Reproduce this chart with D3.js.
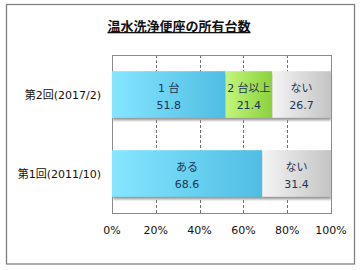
<!DOCTYPE html>
<html>
<head>
<meta charset="utf-8">
<script src="https://cdn.jsdelivr.net/npm/d3@7"></script>
<style>
  body { margin: 0; background: #fff; }
  text { font-family: "DejaVu Sans", "Noto Sans CJK JP", sans-serif; }
</style>
</head>
<body>
<script>
// chart data
var title = "温水洗浄便座の所有台数";
var categories = ["第2回(2017/2)", "第1回(2011/10)"];
var segNames = [["1 台", "2 台以上", "ない"], ["ある", "ない"]];
var segValues = [[51.8, 21.4, 26.7], [68.6, 31.4]];
var segColors = [["blue", "green", "gray"], ["blue", "gray"]];
var tickValues = [0, 20, 40, 60, 80, 100];

var width = 360, height = 270;
var margin = {top: 55, right: 29, bottom: 57, left: 112};

var svg = d3.select("body").append("svg")
    .attr("width", width)
    .attr("height", height);

var defs = svg.append("defs");
var grads = {
    blue: ["#86e6ff", "#4fbde3"],
    green: ["#c3f57e", "#8ad23a"],
    gray: ["#f4f4f4", "#c4c4c4"]
};
Object.keys(grads).forEach(function(k) {
    var lg = defs.append("linearGradient").attr("id", "g-" + k)
        .attr("x1", "0%").attr("x2", "100%").attr("y1", "0%").attr("y2", "0%");
    lg.append("stop").attr("offset", "0%").attr("stop-color", grads[k][0]);
    lg.append("stop").attr("offset", "100%").attr("stop-color", grads[k][1]);
});
var f = defs.append("filter").attr("id", "shadow")
    .attr("x", "-5%").attr("y", "-20%").attr("width", "110%").attr("height", "150%");
f.append("feGaussianBlur").attr("stdDeviation", 1.2);

// outer frame
svg.append("rect")
    .attr("x", 6.5).attr("y", 4.5)
    .attr("width", 348).attr("height", 259.5)
    .attr("fill", "#fff")
    .attr("stroke", "#808080")
    .attr("stroke-width", 1.3);

// title
svg.append("text")
    .attr("x", 179).attr("y", 31)
    .attr("text-anchor", "middle")
    .attr("font-size", 13)
    .attr("font-weight", "bold")
    .attr("fill", "#111")
    .attr("text-decoration", "underline")
    .style("font-family", "'Noto Sans CJK JP', sans-serif")
    .text(title);

var x = d3.scaleLinear()
    .domain([0, 100])
    .range([margin.left, width - margin.right]);

var y = d3.scaleBand()
    .domain(categories)
    .range([margin.top, height - margin.bottom])
    .paddingInner(0.41)
    .paddingOuter(0.205);

var g = svg.append("g");

// gridlines
g.selectAll(".grid")
    .data(tickValues.slice(1, -1))
    .enter()
    .append("line")
    .attr("class", "grid")
    .attr("x1", function(d) { return Math.round(x(d)) + 0.5; })
    .attr("x2", function(d) { return Math.round(x(d)) + 0.5; })
    .attr("y1", margin.top)
    .attr("y2", height - margin.bottom)
    .attr("stroke", "#707070")
    .attr("stroke-dasharray", "3,2");

// plot border
g.append("rect")
    .attr("x", x(0) + 0.5).attr("y", margin.top + 0.5)
    .attr("width", x(100) - x(0)).attr("height", height - margin.bottom - margin.top)
    .attr("fill", "none")
    .attr("stroke", "#8a8a8a");

// bars
categories.forEach(function(cat, i) {
    var start = 0;
    var segs = segValues[i].map(function(v, j) {
        var s = {name: segNames[i][j], value: v, x0: start, color: segColors[i][j]};
        start += v;
        s.x1 = Math.min(start, 100);
        return s;
    });
    var row = g.append("g");

    row.append("rect")
        .attr("x", x(0) + 1)
        .attr("y", y(cat) + 2.5)
        .attr("width", x(100) - x(0) - 1)
        .attr("height", y.bandwidth())
        .attr("fill", "#9a9a9a")
        .attr("filter", "url(#shadow)");

    row.selectAll("rect.seg")
        .data(segs)
        .enter()
        .append("rect")
        .attr("class", "seg")
        .attr("x", function(d) { return x(d.x0); })
        .attr("y", y(cat))
        .attr("width", function(d) { return x(d.x1) - x(d.x0); })
        .attr("height", y.bandwidth())
        .attr("fill", function(d) { return "url(#g-" + d.color + ")"; });

    var lbl = row.selectAll("text.lbl")
        .data(segs)
        .enter()
        .append("text")
        .attr("class", "lbl")
        .attr("text-anchor", "middle")
        .attr("font-size", 11)
        .attr("fill", "#1d3553");
    lbl.append("tspan")
        .attr("x", function(d) { return (x(d.x0) + x(d.x1)) / 2; })
        .attr("y", y(cat) + y.bandwidth() / 2 - 2.5)
        .text(function(d) { return d.name; });
    lbl.append("tspan")
        .attr("x", function(d) { return (x(d.x0) + x(d.x1)) / 2; })
        .attr("y", y(cat) + y.bandwidth() / 2 + 14.5)
        .text(function(d) { return d.value.toFixed(1); });
});

// category labels
g.selectAll(".cat")
    .data(categories)
    .enter()
    .append("text")
    .attr("class", "cat")
    .attr("x", margin.left - 11)
    .attr("y", function(d) { return y(d) + y.bandwidth() / 2 + 4; })
    .attr("text-anchor", "end")
    .attr("font-size", 11)
    .attr("fill", "#111")
    .text(function(d) { return d; });

// x axis labels
g.selectAll(".tick")
    .data(tickValues)
    .enter()
    .append("text")
    .attr("class", "tick")
    .attr("x", function(d) { return x(d); })
    .attr("y", 234)
    .attr("text-anchor", "middle")
    .attr("font-size", 11)
    .attr("fill", "#111")
    .text(function(d) { return d + "%"; });
</script>
</body>
</html>
